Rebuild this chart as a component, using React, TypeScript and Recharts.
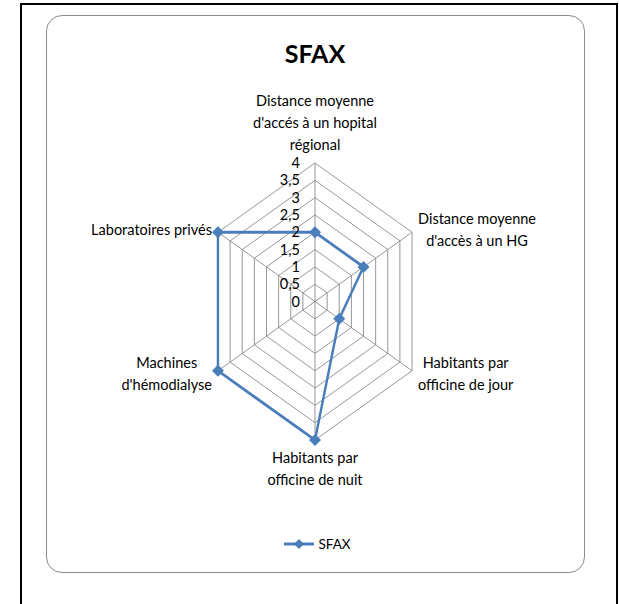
import React from "react";
import {
  RadarChart,
  Radar,
  PolarGrid,
  PolarAngleAxis,
  PolarRadiusAxis,
  Legend,
} from "recharts";

// axes, clockwise from the top
const categories = [
  "Distance moyenne\nd'accés à un hopital\nrégional",
  "Distance moyenne\nd'accès à un HG",
  "Habitants par\nofficine de jour",
  "Habitants par\nofficine de nuit",
  "Machines\nd'hémodialyse",
  "Laboratoires privés",
];
const sfaxValues = [2, 2, 1, 4, 4, 4];
const radiusTicks = [0, 0.5, 1, 1.5, 2, 2.5, 3, 3.5, 4];
const seriesName = "SFAX";

const data = categories.map((name, i) => ({ name, value: sfaxValues[i] }));

const W = 619;
const H = 604;
const CX = 315;
const CY = 301.5;
const R = 138.5;
const SX = 0.809; // excel squeezes the radar horizontally
const FONT = "Lato, 'Open Sans', sans-serif";
const FS = 14.5;
const LINE_H = 22;
const BLUE = "#4a7ebb";

let ctx: CanvasRenderingContext2D | null = null;
const measure = (s: string) => {
  if (!ctx) ctx = document.createElement("canvas").getContext("2d");
  if (!ctx) return s.length * 6.5;
  ctx.font = `${FS}px Lato`;
  return ctx.measureText(s).width;
};

const AngleTick = (props: any) => {
  const { payload } = props;
  const rad = (payload.coordinate * Math.PI) / 180;
  const cos = Math.cos(rad);
  const sin = Math.sin(rad);
  const vx = CX + R * cos;
  const vy = CY - R * sin;
  const lines = String(payload.value).split("\n");
  const blockW = Math.max(...lines.map(measure));
  const h = lines.length * LINE_H;
  let xOff = 0;
  let topY = 0;
  if (Math.abs(cos) < 0.01) {
    topY = sin > 0 ? -7 - h : 7;
  } else {
    xOff = cos > 0 ? 6 + blockW / 2 : -6 - blockW / 2;
    topY = -h / 2 + (sin < 0 ? 3 : -2);
  }
  return (
    <g transform={`translate(${vx},${vy}) scale(${1 / SX},1)`}>
      <text textAnchor="middle" fontFamily={FONT} fontSize={FS} fill="#000">
        {lines.map((l, i) => (
          <tspan key={i} x={xOff} y={topY + LINE_H * i + LINE_H / 2 + FS * 0.35}>
            {l}
          </tspan>
        ))}
      </text>
    </g>
  );
};

const RadiusTick = (props: any) => {
  const { x, y, payload } = props;
  return (
    <g transform={`translate(${x},${y}) scale(${1 / SX},1)`}>
      <text
        x={-15}
        y={FS * 0.35}
        textAnchor="end"
        fontFamily={FONT}
        fontSize={FS}
        fill="#000"
      >
        {String(payload.value).replace(".", ",")}
      </text>
    </g>
  );
};

const Diamond = (props: any) => {
  const { cx, cy } = props;
  if (cx == null || cy == null) return null;
  return (
    <path
      transform={`translate(${cx},${cy}) scale(${1 / SX},1)`}
      d="M0,-6L6,0L0,6L-6,0Z"
      fill={BLUE}
    />
  );
};

const LegendContent = () => (
  <div
    style={{
      display: "flex",
      alignItems: "center",
      justifyContent: "center",
      fontFamily: FONT,
      fontSize: 13.5,
      color: "#000",
    }}
  >
    <svg width={30} height={12}>
      <line x1={0} y1={6} x2={30} y2={6} stroke={BLUE} strokeWidth={3} />
      <path d="M15,1L20,6L15,11L10,6Z" fill={BLUE} />
    </svg>
    <span style={{ marginLeft: 4 }}>{seriesName}</span>
  </div>
);

export default function App() {
  return (
    <div
      style={{
        position: "absolute",
        left: 0,
        top: 0,
        width: W,
        height: H,
        overflow: "hidden",
        background: "#fff",
      }}
    >
      <style>{`.sfax-chart .recharts-surface{transform:scaleX(${SX});transform-origin:${CX}px 0;overflow:visible}`}</style>
      <div
        style={{
          position: "absolute",
          left: 20,
          top: 3,
          width: 598,
          height: 700,
          border: "2px solid #000",
          boxSizing: "border-box",
        }}
      />
      <div
        style={{
          position: "absolute",
          left: 46,
          top: 15,
          width: 539,
          height: 558,
          border: "1.5px solid #8c8c8c",
          borderRadius: 16,
          boxSizing: "border-box",
        }}
      />
      <div
        style={{
          position: "absolute",
          left: 0,
          top: 37,
          width: 2 * CX,
          textAlign: "center",
          fontFamily: FONT,
          fontWeight: 700,
          fontSize: 25,
          lineHeight: "32px",
        }}
      >
        SFAX
      </div>
      <div className="sfax-chart" style={{ position: "absolute", left: 0, top: 0 }}>
        <RadarChart
          width={W}
          height={H}
          data={data}
          cx={CX}
          cy={CY}
          outerRadius={R}
          margin={{ top: 0, right: 0, bottom: 0, left: 0 }}
        >
          <PolarGrid gridType="polygon" stroke="#8c8c8c" strokeOpacity={1} />
          <PolarAngleAxis
            dataKey="name"
            tick={<AngleTick />}
            tickLine={false}
            axisLine={false}
          />
          <PolarRadiusAxis
            angle={90}
            domain={[0, 4]}
            ticks={radiusTicks as any}
            tickCount={9}
            axisLine={false}
            tickLine={false}
            tick={<RadiusTick />}
          />
          <Radar
            name={seriesName}
            dataKey="value"
            stroke={BLUE}
            strokeWidth={3}
            fill="none"
            fillOpacity={0}
            dot={<Diamond />}
            isAnimationActive={false}
          />
          <Legend
            content={<LegendContent />}
            wrapperStyle={{ position: "absolute", left: 8, top: 536, width: W, bottom: "auto" }}
          />
        </RadarChart>
      </div>
    </div>
  );
}
